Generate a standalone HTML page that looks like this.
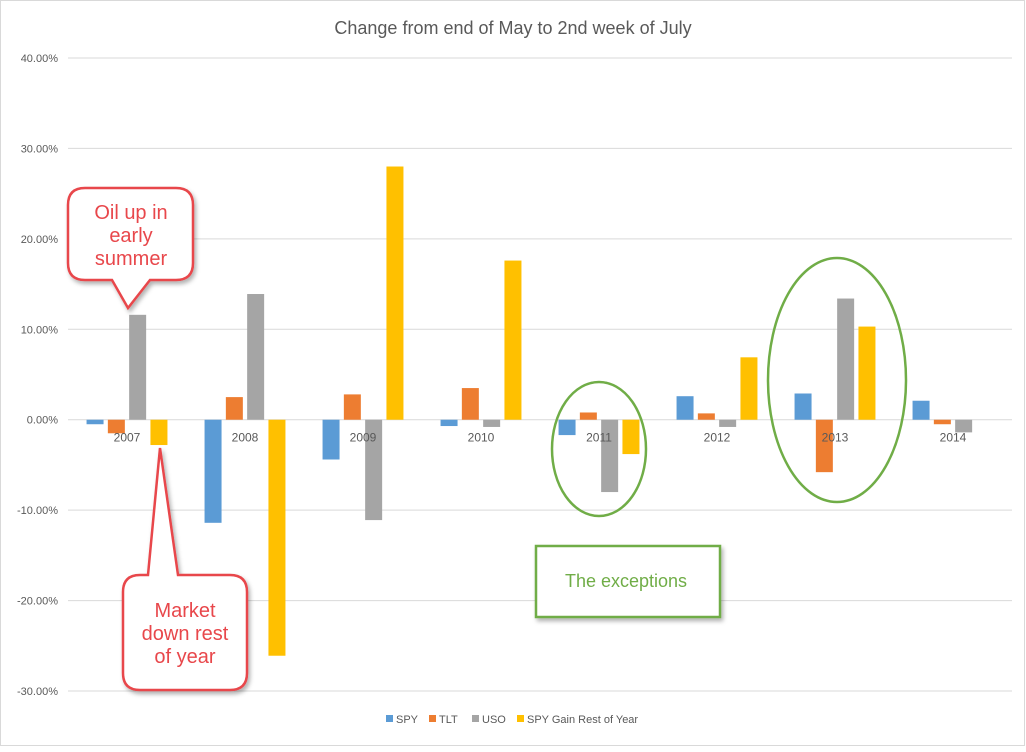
<!DOCTYPE html>
<html><head><meta charset="utf-8">
<style>
body{margin:0;background:#fff;font-family:"Liberation Sans",sans-serif;}
svg text{font-family:"Liberation Sans",sans-serif;}
</style></head>
<body>
<svg id="chart" width="1026" height="747" xmlns="http://www.w3.org/2000/svg">
<defs>
<filter id="sh" x="-20%" y="-20%" width="150%" height="150%"><feDropShadow dx="2" dy="3" stdDeviation="2" flood-color="#000" flood-opacity="0.3"/></filter>
</defs>
<rect x="0.5" y="0.5" width="1024" height="745" fill="#fff" stroke="#d9d9d9"/>
<text x="513" y="34" font-size="18" fill="#595959" text-anchor="middle">Change from end of May to 2nd week of July</text>
<g id="grid"></g>
<g id="bars"></g>
<g id="labels"></g>
<g font-size="11" fill="#595959">
<rect x="386" y="715" width="7" height="7" fill="#5b9bd5"/><text x="396" y="723">SPY</text>
<rect x="429" y="715" width="7" height="7" fill="#ed7d31"/><text x="439" y="723">TLT</text>
<rect x="472" y="715" width="7" height="7" fill="#a5a5a5"/><text x="482" y="723">USO</text>
<rect x="517" y="715" width="7" height="7" fill="#ffc000"/><text x="527" y="723">SPY Gain Rest of Year</text>
</g>
<g>
<path d="M85,188 H176 Q193,188 193,205 V263 Q193,280 176,280 H150 L128,308 L112,280 H85 Q68,280 68,263 V205 Q68,188 85,188 Z" fill="#fff" stroke="#e8474b" stroke-width="2.5" filter="url(#sh)"/>
<text x="131" y="219" font-size="20" fill="#e8474b" text-anchor="middle">Oil up in</text>
<text x="131" y="242" font-size="20" fill="#e8474b" text-anchor="middle">early</text>
<text x="131" y="265" font-size="20" fill="#e8474b" text-anchor="middle">summer</text>
</g>
<g>
<path d="M140,575 H148 L160,448 L178,575 H230 Q247,575 247,592 V673 Q247,690 230,690 H140 Q123,690 123,673 V592 Q123,575 140,575 Z" fill="#fff" stroke="#e8474b" stroke-width="2.5" filter="url(#sh)"/>
<text x="185" y="617" font-size="20" fill="#e8474b" text-anchor="middle">Market</text>
<text x="185" y="640" font-size="20" fill="#e8474b" text-anchor="middle">down rest</text>
<text x="185" y="663" font-size="20" fill="#e8474b" text-anchor="middle">of year</text>
</g>
<ellipse cx="599" cy="449" rx="47" ry="67" fill="none" stroke="#70ad47" stroke-width="2.5"/>
<ellipse cx="837" cy="380" rx="69" ry="122" fill="none" stroke="#70ad47" stroke-width="2.5"/>
<g>
<rect x="536" y="546" width="184" height="71" fill="#fff" stroke="#70ad47" stroke-width="2.5" filter="url(#sh)"/>
<text x="626" y="587" font-size="18" fill="#70ad47" text-anchor="middle">The exceptions</text>
</g>
</svg>
<script>
const categories = ["2007","2008","2009","2010","2011","2012","2013","2014"];
const spy  = [-0.5, -11.4, -4.4, -0.7, -1.7, 2.6, 2.9, 2.1];
const tlt  = [-1.5, 2.5, 2.8, 3.5, 0.8, 0.7, -5.8, -0.5];
const uso  = [11.6, 13.9, -11.1, -0.8, -8.0, -0.8, 13.4, -1.4];
const gain = [-2.8, -26.1, 28.0, 17.6, -3.8, 6.9, 10.3, 0];
const yTicks = [40, 30, 20, 10, 0, -10, -20, -30];
const series = [spy, tlt, uso, gain];
const colors = ["#5b9bd5","#ed7d31","#a5a5a5","#ffc000"];
const names = ["spy","tlt","uso","gain"];
const NS = "http://www.w3.org/2000/svg";
const x0 = 68, x1 = 1012, yTop = 58, yBot = 691;
const y = v => yTop + (40 - v) / 70 * (yBot - yTop);
const band = (x1 - x0) / categories.length;
const xc = i => x0 + band * (i + 0.5);
function mk(tag, attrs, parent){const e=document.createElementNS(NS,tag);for(const k in attrs)e.setAttribute(k,attrs[k]);parent.appendChild(e);return e;}
const grid = document.getElementById("grid");
yTicks.forEach(t=>{
  const l = mk("line",{x1:x0,x2:x1,y1:y(t),y2:y(t),stroke:"#d9d9d9","stroke-width":1},grid);
  
  
  const tx = mk("text",{x:58,y:y(t)+4,"font-size":11,fill:"#595959","text-anchor":"end"},grid);
  tx.textContent = t.toFixed(2)+"%";
  
  
});
const bars = document.getElementById("bars");
const bw = 17, gap = 4.3;
categories.forEach((c,i)=>{
  series.forEach((s,j)=>{
    const v = s[i];
    const bx = xc(i) - 2*bw - 1.5*gap + j*(bw+gap);
    const r = mk("rect",{x:bx,y:Math.min(y(v),y(0)),width:bw,height:Math.abs(y(v)-y(0)),fill:colors[j]},bars);
    
    
  });
});
const labels = document.getElementById("labels");
categories.forEach((c,i)=>{
  const t = mk("text",{x:xc(i),y:y(0)+22,"font-size":12,fill:"#595959","text-anchor":"middle"},labels);
  t.textContent = c;
  
  
});
</script>
</body></html>
